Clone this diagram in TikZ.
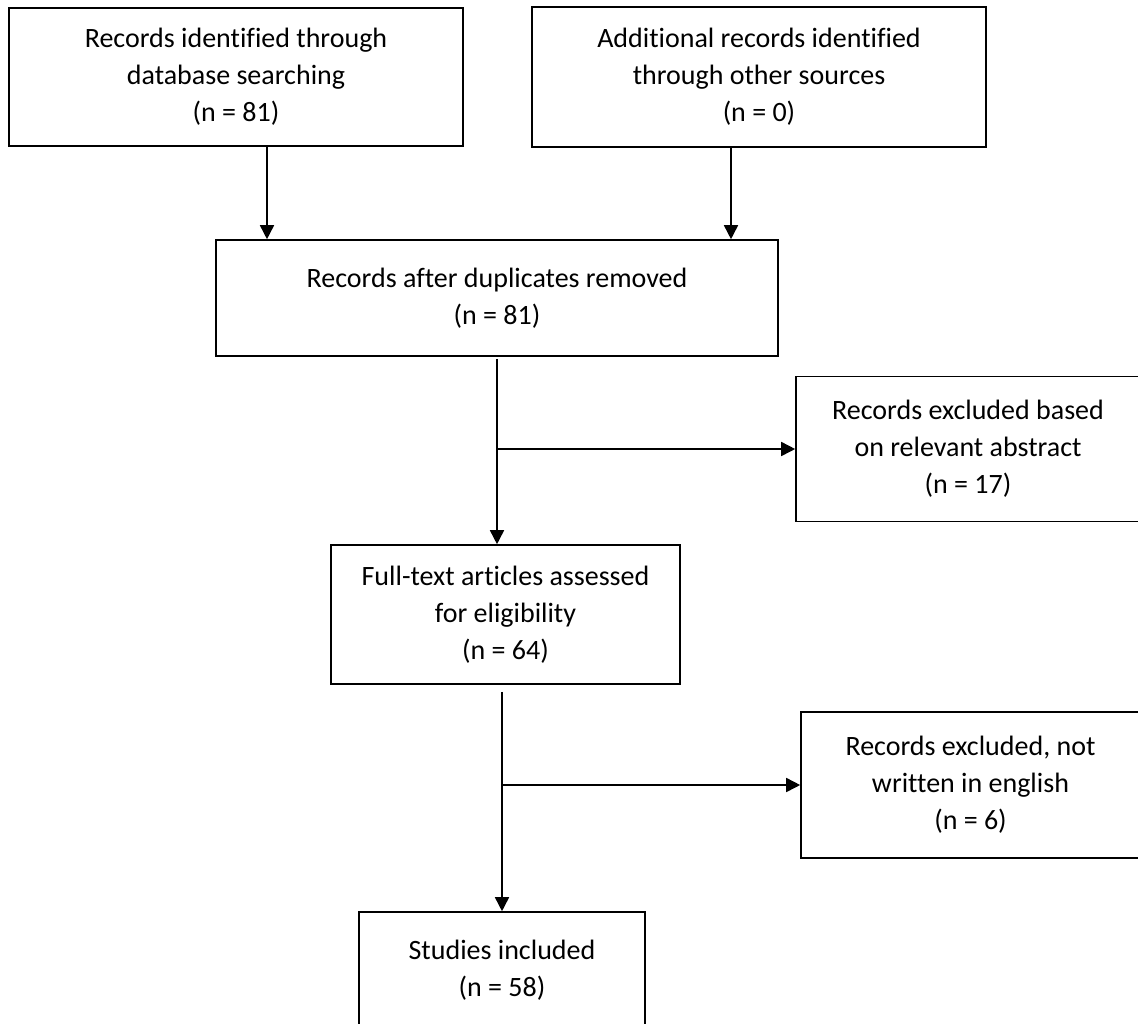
\documentclass[tikz,border=0pt]{standalone}
\usepackage{fontspec}
\setmainfont{Carlito}[Ligatures=NoCommon]
\usetikzlibrary{arrows.meta}

\begin{document}
\begin{tikzpicture}[x=1pt, y=-1pt, line width=1.6pt,
    every node/.style = {shape=rectangle, draw, align=center,
    inner sep=0pt, font=\fontsize{28}{37}\selectfont},
    arr/.style={-{Triangle[width=14pt,length=14pt]}}]
    \useasboundingbox (0,0) rectangle (1138,1023);
    \clip (0,0) rectangle (1138,1023);
    \node[minimum width=454pt, minimum height=138pt] (1) at (236, 77) {Records identified through\\database searching\\(n = 81)};
    \node[minimum width=454pt, minimum height=140pt] (2) at (759, 77) {Additional records identified\\through other sources\\(n = 0)};
    \node[minimum width=562pt, minimum height=116pt] (3) at (497, 298) {Records after duplicates removed\\(n = 81)};
    \node[minimum width=344pt, minimum height=145pt] (4) at (968, 449) {Records excluded based\\on relevant abstract\\(n = 17)};
    \node[minimum width=349pt, minimum height=139pt] (5) at (505.5, 614.5) {Full-text articles assessed\\for eligibility\\(n = 64)};
    \node[minimum width=339pt, minimum height=146pt] (6) at (970.5, 785) {Records excluded, not\\written in english\\(n = 6)};
    \node[minimum width=286pt, minimum height=116pt] (7) at (502, 970) {Studies included\\(n = 58)};
    \draw[arr] ([xshift=31pt]1.south) -- ([xshift=31pt]1.south |- 3.north);
    \draw[arr] ([xshift=-28pt]2.south) -- ([xshift=-28pt]2.south |- 3.north);
    \draw[arr] ([yshift=-2pt]3.south) -- (3.south |- 5.north);
    \draw[arr] (3.south |- 4.west) -- (4.west);
    \draw[arr] ([yshift=-7pt]7.north |- 5.south) -- (7.north);
    \draw[arr] (7.north |- 6.west) -- (6.west);
\end{tikzpicture}
\end{document}
